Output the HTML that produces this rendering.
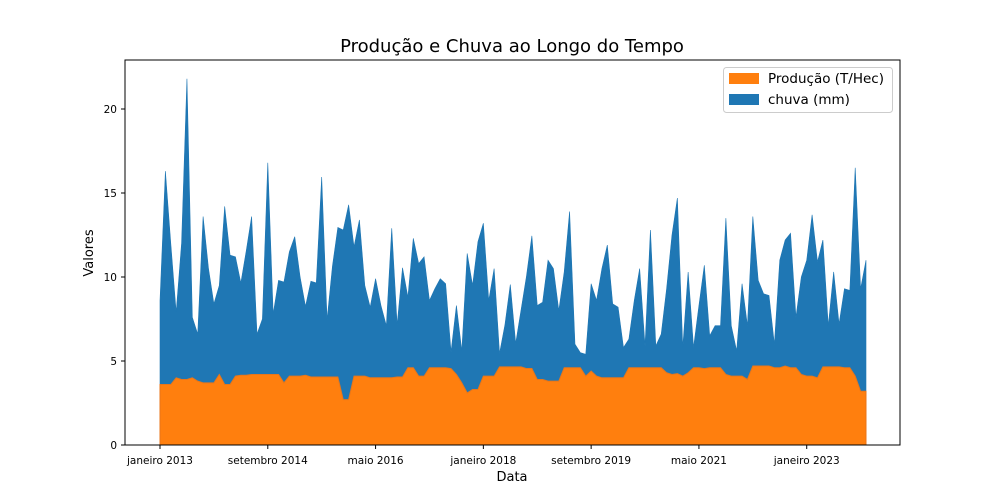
<!DOCTYPE html>
<html><head><meta charset="utf-8"><style>
body{margin:0;background:#fff;}
svg{display:block;font-family:"DejaVu Sans","Liberation Sans",sans-serif;}
</style></head><body>
<svg id="chart" width="1000" height="500"></svg>
<script>
const producao=[3.6,3.6,3.6,4.0,3.9,3.9,4.0,3.8,3.7,3.7,
3.7,4.2,3.6,3.6,4.1,4.15,4.15,4.2,4.2,4.2,
4.2,4.2,4.2,3.7,4.1,4.1,4.1,4.15,4.05,4.05,
4.05,4.05,4.05,4.05,2.7,2.7,4.1,4.1,4.1,4.0,
4.0,4.0,4.0,4.0,4.05,4.05,4.6,4.6,4.1,4.1,
4.6,4.6,4.6,4.6,4.55,4.2,3.7,3.1,3.3,3.3,
4.1,4.1,4.1,4.65,4.65,4.65,4.65,4.65,4.55,4.55,
3.9,3.9,3.8,3.8,3.8,4.6,4.6,4.6,4.6,4.1,
4.4,4.1,4.0,4.0,4.0,4.0,4.0,4.6,4.6,4.6,
4.6,4.6,4.6,4.6,4.3,4.2,4.25,4.1,4.3,4.6,
4.6,4.55,4.6,4.6,4.6,4.2,4.1,4.1,4.1,3.9,
4.7,4.7,4.7,4.7,4.6,4.6,4.7,4.6,4.6,4.2,
4.1,4.1,4.0,4.65,4.65,4.65,4.65,4.6,4.6,4.1,
3.2,3.2];
const chuva=[5.0,12.7,8.4,3.9,8.1,17.9,3.6,2.8,9.9,6.8,
4.7,5.3,10.6,7.7,7.1,5.5,7.4,9.4,2.4,3.3,
12.6,3.6,5.6,6.0,7.4,8.3,5.9,4.1,5.7,5.6,
11.9,3.4,6.6,8.9,10.1,11.6,7.7,9.3,5.4,4.2,
5.9,4.3,3.1,8.9,3.1,6.5,4.2,7.7,6.7,7.1,
4.0,4.7,5.3,5.0,1.0,4.1,1.9,8.3,6.2,8.8,
9.1,4.5,6.4,0.8,2.5,4.9,1.4,3.4,5.5,7.9,
4.4,4.6,7.2,6.7,4.2,5.7,9.3,1.4,0.9,1.3,
5.2,4.5,6.5,7.9,4.4,4.2,1.8,1.7,4.0,5.9,
1.3,8.2,1.3,2.0,5.0,8.3,10.45,1.7,6.0,1.2,
3.7,6.15,1.9,2.5,2.5,9.3,3.0,1.5,5.5,3.2,
8.9,5.1,4.3,4.2,1.4,6.4,7.5,8.0,3.0,5.8,
6.9,9.6,6.9,7.55,2.45,5.65,2.55,4.7,4.6,12.4,
6.1,7.8];
const xTickIdx=[0,20,40,60,80,100,120];
const xTickLabels=["janeiro 2013","setembro 2014","maio 2016","janeiro 2018","setembro 2019","maio 2021","janeiro 2023"];
const yTicks=[0,5,10,15,20];

const svg=document.getElementById('chart');
const NS='http://www.w3.org/2000/svg';
const L=125,R=900,T=60,B=445;
const x=i=>160+i*(866-160)/131;
const y=v=>B-v*16.8;
function mk(tag,attrs,parent){const e=document.createElementNS(NS,tag);for(const k in attrs)e.setAttribute(k,attrs[k]);(parent||svg).appendChild(e);return e;}
const n=Math.min(producao.length,chuva.length);
const topPts=[],basePts=[];
for(let i=0;i<n;i++){basePts.push([x(i),y(producao[i])]);topPts.push([x(i),y(producao[i]+chuva[i])]);}
const d='M'+topPts.map(p=>p.join(',')).join('L')+'L'+basePts.slice().reverse().map(p=>p.join(',')).join('L')+'Z';
const rain=mk('path',{d:d,fill:'#1f77b4',stroke:'#1f77b4','stroke-width':'0.6'});


const d2='M'+x(0)+','+y(0)+'L'+basePts.map(p=>p.join(',')).join('L')+'L'+x(n-1)+','+y(0)+'Z';
const prod=mk('path',{d:d2,fill:'#ff7f0e',stroke:'#e8761a','stroke-width':'1'});


const frame=mk('rect',{x:L,y:T,width:R-L,height:B-T,fill:'none',stroke:'#000','stroke-width':'1'});


xTickIdx.forEach((idx,k)=>{
  mk('line',{x1:x(idx),x2:x(idx),y1:B,y2:B+4,stroke:'#000'});
  const t=mk('text',{x:x(idx),y:B+19,'font-size':'10.5','text-anchor':'middle',fill:'#000'});
  t.textContent=xTickLabels[k];
  
  
});
yTicks.forEach(v=>{
  mk('line',{x1:L-4,x2:L,y1:y(v),y2:y(v),stroke:'#000'});
  const t=mk('text',{x:L-8,y:y(v)+4,'font-size':'10.5','text-anchor':'end',fill:'#000'});
  t.textContent=v;
  
  
});
</script>
<svg width="1000" height="500" style="position:absolute;left:0;top:0">
<text x="512" y="52" font-size="18" text-anchor="middle" font-family="DejaVu Sans,Liberation Sans,sans-serif">Produção e Chuva ao Longo do Tempo</text>
<text x="512" y="481" font-size="13" text-anchor="middle" font-family="DejaVu Sans,Liberation Sans,sans-serif">Data</text>
<text x="93" y="253" font-size="13" text-anchor="middle" transform="rotate(-90 93 253)" font-family="DejaVu Sans,Liberation Sans,sans-serif">Valores</text>
<g>
<rect x="723.5" y="67.5" width="169" height="45" rx="3" fill="#fff" fill-opacity="0.8" stroke="#ccc"/>
<rect x="729" y="73" width="30" height="11" fill="#ff7f0e"/>
<text x="768" y="83" font-size="13.5" font-family="DejaVu Sans,Liberation Sans,sans-serif">Produção (T/Hec)</text>
<rect x="729" y="94" width="30" height="11" fill="#1f77b4"/>
<text x="768" y="104" font-size="13.5" font-family="DejaVu Sans,Liberation Sans,sans-serif">chuva (mm)</text>
</g>
</svg>
</body></html>
